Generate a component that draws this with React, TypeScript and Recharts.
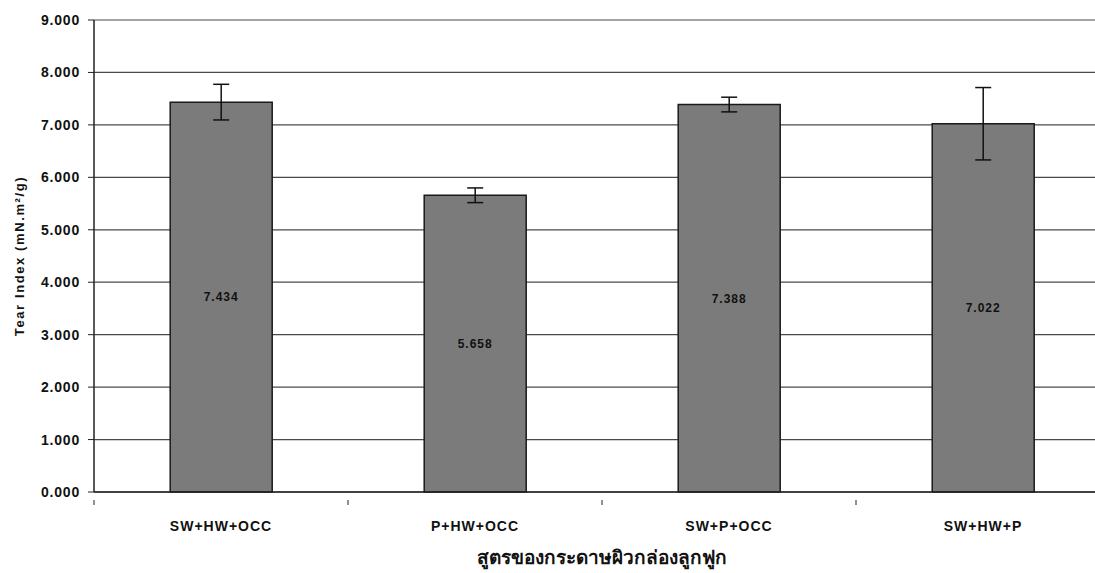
import { Bar, BarChart, CartesianGrid, ErrorBar, LabelList, XAxis, YAxis } from 'recharts';

const formulas = ['SW+HW+OCC', 'P+HW+OCC', 'SW+P+OCC', 'SW+HW+P'];
const tearIndex = [7.434, 5.658, 7.388, 7.022];
const tearError = [0.34, 0.14, 0.14, 0.69];
const yTicks = [0, 1, 2, 3, 4, 5, 6, 7, 8, 9];

const data = formulas.map((name, i) => ({ name, value: tearIndex[i], err: tearError[i] }));

const CHART_W = 1114;
const PLOT_LEFT = 94;
const PLOT_RIGHT = 4;
const halfBand = (CHART_W - PLOT_LEFT - PLOT_RIGHT) / formulas.length / 2;

function XTick({ x, y, payload }: any) {
  return (
    <g>
      <line x1={x - halfBand} x2={x - halfBand} y1={y} y2={y + 5} stroke="#222" strokeWidth={1} />
      <text
        x={x}
        y={y + 31}
        textAnchor="middle"
        fontSize={14}
        fontWeight="bold"
        letterSpacing={1}
        fill="#111"
        fontFamily="Liberation Sans, Arial, sans-serif"
      >
        {payload.value}
      </text>
    </g>
  );
}

export default function App() {
  return (
    <div style={{ position: 'absolute', left: 0, top: 0, width: 1095, height: 573, overflow: 'hidden', background: '#fff' }}>
      <BarChart
        width={CHART_W}
        height={573}
        data={data}
        margin={{ top: 20, right: PLOT_RIGHT, bottom: 5, left: 0 }}
        barCategoryGap="30%"
        style={{ fontFamily: 'Liberation Sans, Arial, sans-serif' }}
      >
        <CartesianGrid vertical={false} stroke="#4a4a4a" strokeWidth={1.2} />
        <XAxis
          dataKey="name"
          height={76}
          axisLine={{ stroke: '#222', strokeWidth: 1.5 }}
          tickLine={false}
          tick={<XTick />}
          interval={0}
          label={{
            value: 'สูตรของกระดาษผิวกล่องลูกฟูก',
            position: 'insideBottom',
            offset: 4,
            dx: 0,
            style: { fontSize: 19, fontWeight: 'bold', fill: '#111', fontFamily: 'Noto Sans, Liberation Sans, sans-serif' },
          }}
        />
        <YAxis
          width={PLOT_LEFT}
          domain={[0, 9]}
          ticks={yTicks}
          interval={0}
          tickFormatter={(v) => Number(v).toFixed(3)}
          axisLine={{ stroke: '#222', strokeWidth: 1.5 }}
          tickLine={{ stroke: '#222' }}
          tickSize={6}
          tickMargin={8}
          tick={{ fontSize: 14, fontWeight: 'bold', fill: '#111', letterSpacing: 0.8 }}
          label={{
            value: 'Tear Index (mN.m²/g)',
            angle: -90,
            position: 'center',
            dx: -28,
            style: { fontSize: 13, fontWeight: 'bold', fill: '#111', letterSpacing: 1.6 },
          }}
        />
        <Bar dataKey="value" fill="#7b7b7b" stroke="#1a1a1a" strokeWidth={1.5} isAnimationActive={false}>
          <LabelList
            dataKey="value"
            position="center"
            formatter={(v: any) => Number(v).toFixed(3)}
            style={{ fontSize: 12, fontWeight: 'bold', fill: '#111', letterSpacing: 1 }}
          />
          <ErrorBar dataKey="err" width={8} stroke="#111" strokeWidth={1.5} isAnimationActive={false} />
        </Bar>
      </BarChart>
    </div>
  );
}
